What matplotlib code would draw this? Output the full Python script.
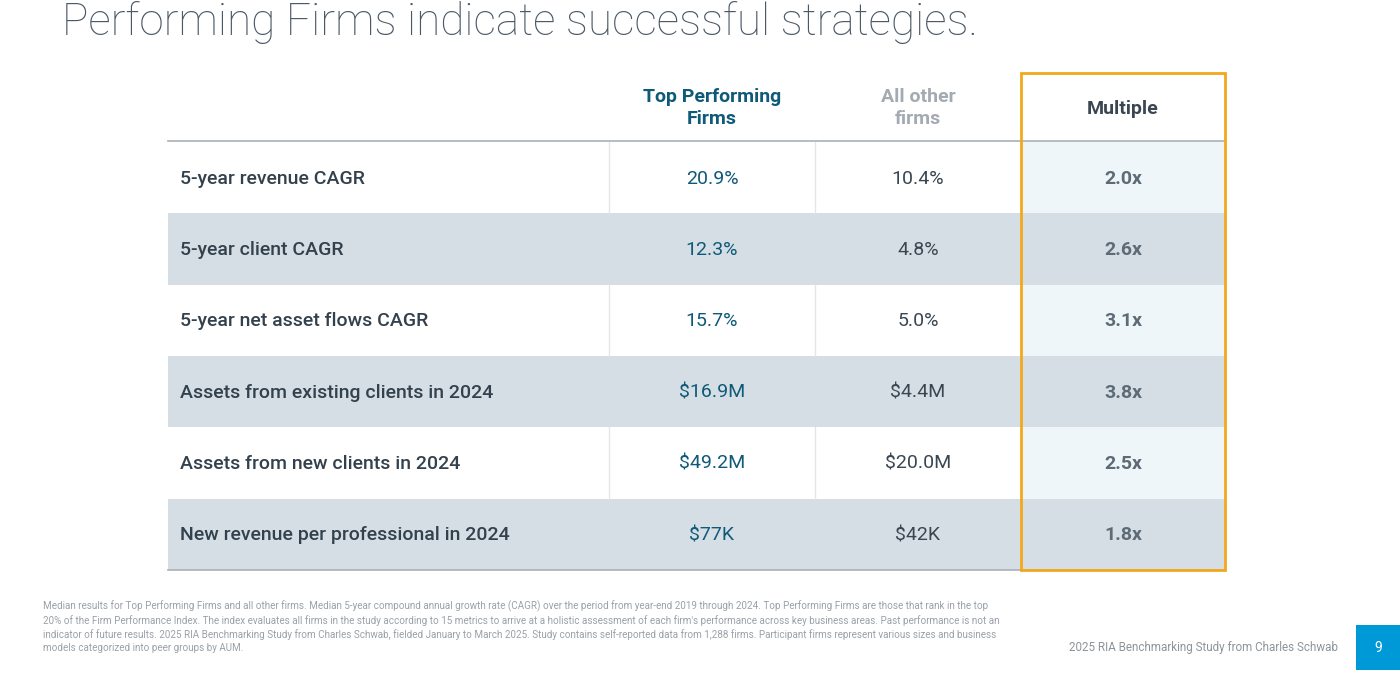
import matplotlib
matplotlib.use("Agg")
import matplotlib.pyplot as plt
from matplotlib.patches import Rectangle

metrics = ["5-year revenue CAGR", "5-year client CAGR", "5-year net asset flows CAGR",
           "Assets from existing clients in 2024", "Assets from new clients in 2024",
           "New revenue per professional in 2024"]
top_firms = ["20.9%", "12.3%", "15.7%", "$16.9M", "$49.2M", "$77K"]
other_firms = ["10.4%", "4.8%", "5.0%", "$4.4M", "$20.0M", "$42K"]
multiples = ["2.0x", "2.6x", "3.1x", "3.8x", "2.5x", "1.8x"]
headers = ["Top Performing\nFirms", "All other\nfirms", "Multiple"]
title = "Performing Firms indicate successful strategies."
footnote = ("Median results for Top Performing Firms and all other firms. Median 5-year compound annual growth rate (CAGR) over the period from year-end 2019 through 2024. Top Performing Firms are those that rank in the top\n"
            "20% of the Firm Performance Index. The index evaluates all firms in the study according to 15 metrics to arrive at a holistic assessment of each firm's performance across key business areas. Past performance is not an\n"
            "indicator of future results. 2025 RIA Benchmarking Study from Charles Schwab, fielded January to March 2025. Study contains self-reported data from 1,288 firms. Participant firms represent various sizes and business\n"
            "models categorized into peer groups by AUM.")
source = "2025 RIA Benchmarking Study from Charles Schwab"
page = "9"

plt.rcParams['font.family'] = ['Roboto', 'DejaVu Sans']
fig = plt.figure(figsize=(14, 6.85), dpi=100)
ax = fig.add_axes([0, 0, 1, 1])
ax.set_xlim(0, 1400); ax.set_ylim(685, 0); ax.axis('off')

x0, x1, x2, x3, x4 = 168, 609, 815, 1021, 1225
top, rh = 142, 71.3
shade = "#d5dee4"; light = "#eff6f9"
for i in range(len(metrics)):
    y = top + i * rh
    if i % 2 == 1:
        ax.add_patch(Rectangle((x0, y), x4 - x0, rh, color=shade, lw=0))
    else:
        ax.add_patch(Rectangle((x3, y), x4 - x3, rh, color=light, lw=0))
        for xd in (x1, x2):
            ax.plot([xd, xd], [y, y + rh], color="#e2e6ea", lw=1)
    yc = y + rh / 2 + 1
    ax.text(180, yc, metrics[i], fontsize=14, fontweight='medium', color="#33414d", va='center')
    ax.text((x1 + x2) / 2, yc, top_firms[i], fontsize=14, color="#0e5a78", va='center', ha='center')
    ax.text((x2 + x3) / 2, yc, other_firms[i], fontsize=14, color="#3a4753", va='center', ha='center')
    ax.text((x3 + x4) / 2, yc, multiples[i], fontsize=14, fontweight='bold', color="#5d6b77", va='center', ha='center')
ax.plot([x0, x4], [141, 141], color="#a9b0b6", lw=1.2)
ax.plot([x0, x4], [570, 570], color="#a9b0b6", lw=1.2)
ax.add_patch(Rectangle((x3, 73), x4 - x3, 570 - 73, fill=False, ec="#f3a81c", lw=2, zorder=5))

ax.text((x1 + x2) / 2, 108, headers[0], fontsize=14, fontweight='bold', color="#0e5a78", ha='center', va='center', linespacing=1.3)
ax.text((x2 + x3) / 2, 108, headers[1], fontsize=14, fontweight='bold', color="#a3aab1", ha='center', va='center', linespacing=1.3)
ax.text((x3 + x4) / 2, 109, headers[2], fontsize=14, fontweight='bold', color="#3a4753", ha='center', va='center')

ax.text(62, 22, title, fontsize=31.8, fontweight='light', color="#4b5866", va='center')
ax.text(43, 627, footnote, fontsize=7.1, color="#9aa1a8", va='center', linespacing=1.35)
ax.text(1338, 648, source, fontsize=8.4, color="#8c949b", va='center', ha='right')
ax.add_patch(Rectangle((1356, 625), 44, 45, color="#0099d8", lw=0))
ax.text(1378, 648, page, fontsize=10, color="white", va='center', ha='center')
fig.savefig("out.png", dpi=100)
